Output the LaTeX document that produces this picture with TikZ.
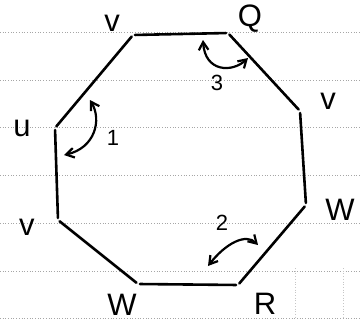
\documentclass[tikz,border=0pt]{standalone}
\usepackage{fontspec}
\setmainfont{Liberation Sans}
\usetikzlibrary{arrows.meta}

\begin{document}
\begin{tikzpicture}[
      x=1pt,y=-1pt,
      rule/.style={dotted,line width=0.7pt,gray!70},
      side/.style={line width=2.6pt,line cap=round,shorten <=2pt,shorten >=2pt},
      lab/.style={inner sep=0pt,font=\fontsize{31}{33}\selectfont},
      num/.style={inner sep=0pt,font=\fontsize{22}{24}\selectfont},
      swap/.style={{Straight Barb[length=2.8mm,width=3.4mm]}-{Straight Barb[length=2.8mm,width=3.4mm]},line width=2.2pt,line cap=round}]

    \useasboundingbox (0,0) rectangle (360,327);

    % ruled paper
    \foreach \y in {32,80,127,175,223,271,318}
      \draw[rule] (0,\y) -- (360,\y);
    \foreach \x in {295,343}
      \draw[rule,gray!45] (\x,268) -- (\x,318);

    % corners of the octagon
    \coordinate (A) at (133,35);
    \coordinate (B) at (228,33);
    \coordinate (C) at (300,111);
    \coordinate (D) at (306,205);
    \coordinate (E) at (238,285);
    \coordinate (F) at (138,284);
    \coordinate (G) at (58,220);
    \coordinate (H) at (55,128);

    \foreach \p/\q in {A/B,B/C,C/D,D/E,E/F,F/G,G/H,H/A}
      \draw[side] (\p) -- (\q);

    \node[lab] (vA) at ([shift={(-21,-12)}]A) {v};
    \node[lab] (qB) at ([shift={(22,-14)}]B) {Q};
    \node[lab] (vC) at ([shift={(28,-10)}]C) {v};
    \node[lab] (wD) at ([shift={(34,5)}]D) {W};
    \node[lab] (rE) at ([shift={(27,19)}]E) {R};
    \node[lab] (wF) at ([shift={(-16,21)}]F) {W};
    \node[lab] (vG) at ([shift={(-31,7)}]G) {v};
    \node[lab] (uH) at ([shift={(-33,0)}]H) {u};

    % swaps
    \coordinate (s1a) at (64,155);
    \coordinate (s1b) at (90,100);
    \draw[swap] (s1a) .. controls (95,148) and (102,120) .. (s1b);
    \node[num] (n1) at (113,138) {1};

    \coordinate (s2a) at (258,245);
    \coordinate (s2b) at (208,266);
    \draw[swap] (s2a) .. controls (246,233) and (226,243) .. (s2b);
    \node[num] (n2) at (222,223) {2};

    \coordinate (s3a) at (203,40);
    \coordinate (s3b) at (248,58);
    \draw[swap] (s3a) .. controls (205,72) and (232,73) .. (s3b);
    \node[num] (n3) at (217,83) {3};
  \end{tikzpicture}
\end{document}
